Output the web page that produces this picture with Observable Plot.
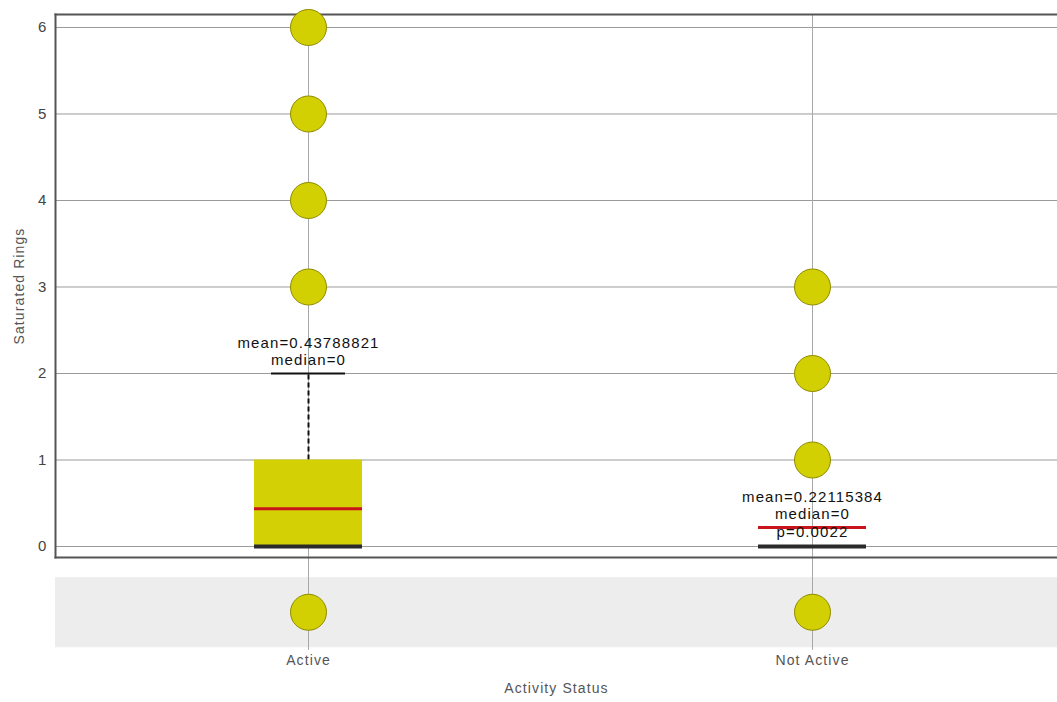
<!DOCTYPE html>
<html>
<head>
<meta charset="utf-8">
<script src="https://cdn.jsdelivr.net/npm/d3@7"></script>
<script src="https://cdn.jsdelivr.net/npm/@observablehq/plot@0.6"></script>
<style>
  html, body { margin: 0; padding: 0; background: #fff; }
  #chart svg text { letter-spacing: 1.1px; }
</style>
</head>
<body>
<div id="chart"></div>
<script>
// ---- data ----
const categories = ["Active", "Not Active"];
const q1 = [0, 0];
const q3 = [1, 0];
const medians = [0, 0];
const means = [0.43788821, 0.22115384];
const whiskerHigh = [2, 0];
const outliersActive = [3, 4, 5, 6];
const outliersNotActive = [1, 2, 3];
const missingMarker = -0.76; // row of points drawn below the axis (missing values)
const annotationText = [
  "mean=0.43788821\nmedian=0",
  "mean=0.22115384\nmedian=0\np=0.0022"
];
const yTicks = [0, 1, 2, 3, 4, 5, 6];

// ---- derived tables ----
const boxes = categories.map((c, i) => ({
  cat: c, q1: q1[i], q3: q3[i], median: medians[i], mean: means[i],
  hi: whiskerHigh[i], note: annotationText[i]
}));
const withWhisker = boxes.filter(d => d.hi > d.q3);
const withoutWhisker = boxes.filter(d => !(d.hi > d.q3));
const dots = [
  ...outliersActive.map(v => ({cat: "Active", v})),
  ...outliersNotActive.map(v => ({cat: "Not Active", v})),
  ...categories.map(c => ({cat: c, v: missingMarker}))
];

const chart = Plot.plot({
  width: 1057,
  height: 702,
  marginLeft: 55,
  marginTop: 14,
  marginRight: 0,
  marginBottom: 145,
  style: {fontFamily: "Liberation Sans, Arial, sans-serif", background: "#fff"},
  x: {type: "band", domain: categories, range: [253, 866], paddingInner: 0.786, paddingOuter: 0, axis: null},
  y: {domain: [-0.127, 6.15], axis: null},
  marks: [
    // faint watermark band below the axis
    Plot.rectY([0], {y1: -0.36, y2: -1.17, fill: "#ededed"}),
    Plot.gridY(yTicks, {stroke: "#9a9a9a", strokeOpacity: 1, strokeWidth: 1}),
    Plot.ruleX(categories, {x: d => d, y1: 6.15, y2: -1.2, stroke: "#a8a8a8", strokeWidth: 1}),
    Plot.axisY(yTicks, {tickSize: 0, tickPadding: 8, fontSize: 15, color: "#444", label: null, tickFormat: d3.format("d")}),
    Plot.frame({anchor: "left", stroke: "#555", strokeWidth: 2}),
    Plot.frame({anchor: "top", stroke: "#555", strokeWidth: 2}),
    Plot.frame({anchor: "bottom", stroke: "#555", strokeWidth: 2}),
    // whisker
    Plot.ruleX(withWhisker, {x: "cat", y1: "q3", y2: "hi", stroke: "#111", strokeWidth: 2, strokeDasharray: "5,3"}),
    Plot.tickY(withWhisker, {x: "cat", y: "hi", stroke: "#111", strokeWidth: 2, inset: 17}),
    // box
    Plot.barY(boxes, {x: "cat", y1: "q1", y2: "q3", fill: "#d3d006"}),
    Plot.tickY(boxes, {x: "cat", y: "median", stroke: "#2b2b2b", strokeWidth: 4}),
    Plot.tickY(boxes, {x: "cat", y: "mean", stroke: "#c8141a", strokeWidth: 3}),
    // points
    Plot.dot(dots, {x: "cat", y: "v", r: 18, fill: "#d2cf02", stroke: "#8f8c00", strokeWidth: 1}),
    // annotations
    Plot.text(withWhisker, {x: "cat", y: "hi", text: "note", lineAnchor: "bottom", dy: -9, fontSize: 15, fill: "#111", lineHeight: 1.1}),
    Plot.text(withoutWhisker, {x: "cat", y: "q3", text: "note", lineAnchor: "bottom", dy: -10, fontSize: 15, fill: "#111", lineHeight: 1.15}),
    // x labels
    Plot.text(categories, {x: d => d, text: d => d, frameAnchor: "bottom", dy: 107, fontSize: 14, fill: "#555"}),
    Plot.text(["Activity Status"], {frameAnchor: "bottom", dy: 135, fontSize: 14, fill: "#555"}),
    Plot.text(["Saturated Rings"], {frameAnchor: "left", textAnchor: "middle", dx: -36, rotate: -90, fontSize: 14, fill: "#555"})
  ]
});
document.getElementById("chart").appendChild(chart);
</script>
</body>
</html>
